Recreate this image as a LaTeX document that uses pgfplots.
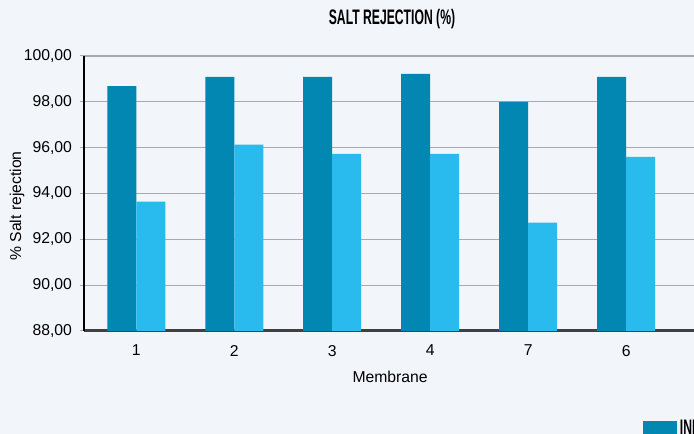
\documentclass[border=0pt]{standalone}
\usepackage{fontspec}
\setmainfont{Liberation Sans}
\usepackage{graphicx}
\usepackage{pgfplots}
\pgfplotsset{compat=1.18}

\definecolor{bg}{RGB}{242,245,250}
\definecolor{darkbar}{RGB}{2,135,178}
\definecolor{lightbar}{RGB}{41,187,238}
\definecolor{gridc}{RGB}{168,170,174}
\definecolor{basec}{RGB}{64,64,64}
\pagecolor{bg}

% condensed bold caps, stand-in for the display face of the original
\newcommand{\cond}[1]{\scalebox{0.58}[1]{\bfseries #1}}

\begin{document}
\begin{tikzpicture}
\begin{axis}[
  at={(63pt,77.25pt)}, anchor=south west,
  scale only axis, width=494.775pt, height=206.25pt,
  set layers,
  xmin=-0.534, xmax=6.2, ymin=88, ymax=100,
  ybar=0pt, bar width=21.75pt,
  xtick={0,...,5}, xticklabels={1,2,3,4,7,6},
  ytick={88,90,...,100},
  yticklabel style={xshift=-2.5pt, /pgf/number format/.cd, fixed, fixed zerofill, precision=2, use comma, assume math mode=true},
  xticklabel style={yshift=-4pt},
  tick label style={font=\fontsize{11.8}{14}\selectfont},
  label style={font=\fontsize{11.8}{14}\selectfont},
  axis x line*=bottom, axis y line*=left,
  x axis line style={-, draw=basec, line width=2.25pt, /pgfplots/on layer=axis foreground},
  y axis line style={-, draw=black, line width=1.5pt},
  xtick style={draw=none},
  ytick style={draw=gridc, line width=0.75pt},
  tick align=outside, major tick length=3pt,
  ymajorgrids, grid style={draw=gridc, line width=0.9pt},
  xlabel={Membrane},
  xlabel style={at={(axis description cs:0.464,-0.189)}, anchor=base, inner sep=0pt},
  ylabel={\% Salt rejection},
  ylabel style={at={(axis description cs:-0.1016,0.4545)}, anchor=center, inner sep=0pt},
  title={\fontsize{15.75}{18}\selectfont\cond{SALT REJECTION (\%)}},
  title style={at={(axis description cs:0.4669,1.0862)}, anchor=base, inner sep=0pt},
  legend columns=2,
  legend style={at={(axis description cs:0.8474,-0.312)}, anchor=north west,
    draw=none, fill=none, inner sep=0pt, font=\fontsize{15.75}{18}\selectfont,
    /tikz/every even column/.append style={column sep=20pt}},
  legend cell align=left,
  legend image code/.code={\draw[#1, draw=none] (0pt,-5.25pt) rectangle (25.5pt,5.25pt);},
]
\addplot[fill=darkbar, draw=none] coordinates {(0,98.69) (1,99.09) (2,99.09) (3,99.22) (4,98.00) (5,99.09)};
\addlegendentry{\cond{INITIAL}}
\addplot[fill=lightbar, draw=none] coordinates {(0,93.64) (1,96.13) (2,95.73) (3,95.73) (4,92.73) (5,95.60)};
\addlegendentry{\cond{FINAL}}
\end{axis}
\pgfresetboundingbox
\path[use as bounding box] (0,0) rectangle (520.5pt,325.5pt);
\end{tikzpicture}
\end{document}
